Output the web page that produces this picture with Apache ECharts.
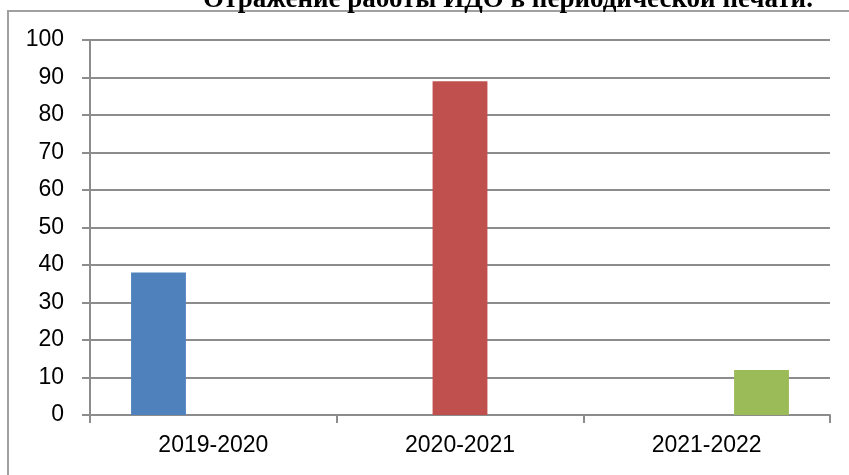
<!DOCTYPE html>
<html>
<head>
<meta charset="utf-8">
<script src="https://cdn.jsdelivr.net/npm/echarts@6/dist/echarts.min.js"></script>
<style>html,body{margin:0;padding:0;background:#fff}#c{width:849px;height:475px}</style>
</head>
<body>
<div id="c"></div>
<script>
const titleText = 'Отражение работы ИДО в периодической печати.';
const categories = ['2019-2020', '2020-2021', '2021-2022'];
const values = [38, 89, 12];
const colors = ['#4f81bd', '#c0504d', '#9bbb59'];
const yTicks = [0, 10, 20, 30, 40, 50, 60, 70, 80, 90, 100];

const chart = echarts.init(document.getElementById('c'));
const series = values.map((v, i) => ({
  type: 'bar',
  data: categories.map((c, j) => (j === i ? v : '-')),
  itemStyle: { color: colors[i] },
  barGap: '0%',
  barCategoryGap: '33.3%'
}));
chart.setOption({
  animation: false,
  title: {
    text: titleText,
    left: 503,
    textAlign: 'center',
    top: -18,
    textStyle: { fontFamily: 'Liberation Serif', fontWeight: 'bold', fontSize: 27, color: '#000' }
  },
  grid: { left: 90, right: 19, top: 40, bottom: 60 },
  xAxis: {
    type: 'category',
    data: categories,
    axisLine: { lineStyle: { color: '#8c8c8c', width: 2 } },
    axisTick: { show: true, length: 8, lineStyle: { color: '#8c8c8c', width: 2 } },
    axisLabel: { fontFamily: 'Liberation Sans', fontSize: 23, color: '#000', margin: 19 }
  },
  yAxis: {
    type: 'value',
    min: yTicks[0],
    max: yTicks[yTicks.length - 1],
    interval: 10,
    axisLine: { show: true, lineStyle: { color: '#8c8c8c', width: 2 } },
    axisTick: { show: true, length: 8, lineStyle: { color: '#8c8c8c', width: 2 } },
    axisLabel: { fontFamily: 'Liberation Sans', fontSize: 23, color: '#000', margin: 26 },
    splitLine: { lineStyle: { color: '#8c8c8c', width: 2 } }
  },
  graphic: [{
    type: 'polyline',
    shape: { points: [[849, 11], [8, 11], [8, 475]] },
    style: { stroke: '#a0a0a0', lineWidth: 2, fill: null }
  }],
  series: series
});
</script>
</body>
</html>
